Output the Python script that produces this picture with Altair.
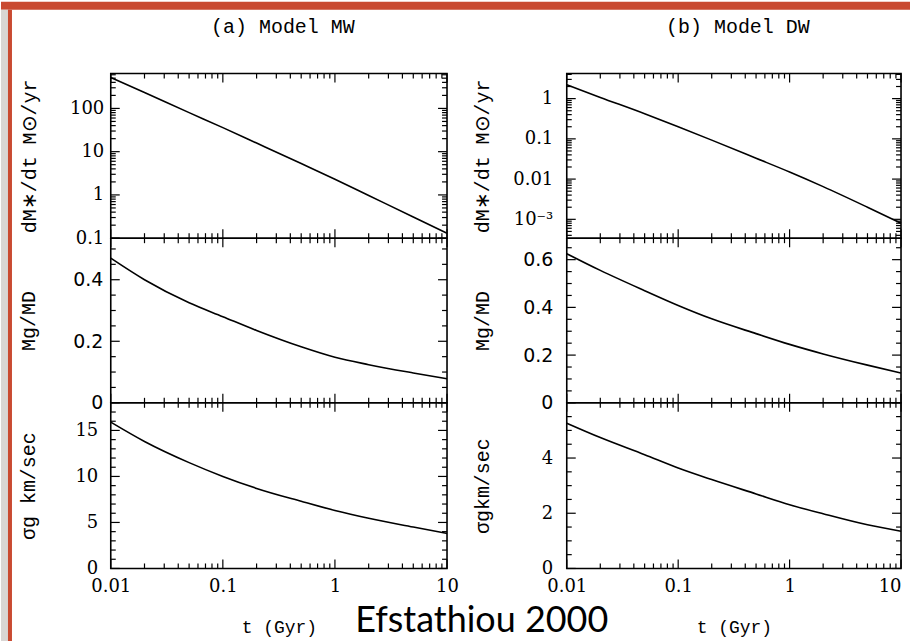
import altair as alt
import pandas as pd

# ---------------- data ----------------
t_vals = [0.01, 0.02, 0.05, 0.1, 0.2, 0.5, 1, 2, 5, 10]

sfr_mw = [520, 233, 80, 36, 15.8, 5.3, 2.3, 0.97, 0.31, 0.13]
sfr_dw = [2.2, 1.07, 0.42, 0.2, 0.093, 0.033, 0.015, 0.0065, 0.002, 0.0008]
gas_mw = [0.47, 0.40, 0.325, 0.28, 0.235, 0.182, 0.148, 0.124, 0.097, 0.078]
gas_dw = [0.625, 0.555, 0.47, 0.408, 0.352, 0.29, 0.245, 0.205, 0.158, 0.125]
sig_mw = [15.9, 13.8, 11.5, 10.0, 8.7, 7.3, 6.3, 5.45, 4.5, 3.8]
sig_dw = [5.26, 4.74, 4.12, 3.64, 3.22, 2.70, 2.31, 1.98, 1.58, 1.35]

x_major = [0.01, 0.1, 1, 10]
x_minor = [k * d for d in (0.01, 0.1, 1) for k in range(2, 10)]

yA1_major = [0.1, 1, 10, 100]
yA1_minor = [k * d for d in (0.1, 1, 10, 100) for k in range(2, 10) if k * d <= 640]
yB1_major = [0.001, 0.01, 0.1, 1]
yB1_minor = [k * d for d in (0.0001, 0.001, 0.01, 0.1, 1) for k in range(2, 10)
             if 0.00034 <= k * d <= 4.2]
yA2_major = [0, 0.2, 0.4]
yA2_minor = [0.05, 0.1, 0.15, 0.25, 0.3, 0.35, 0.45, 0.5]
yB2_major = [0, 0.2, 0.4, 0.6]
yB2_minor = [0.05, 0.1, 0.15, 0.25, 0.3, 0.35, 0.45, 0.5, 0.55, 0.65]
yA3_major = [0, 5, 10, 15]
yA3_minor = [1, 2, 3, 4, 6, 7, 8, 9, 11, 12, 13, 14, 16, 17]
yB3_major = [0, 2, 4]
yB3_minor = [0.5, 1, 1.5, 2.5, 3, 3.5, 4.5, 5, 5.5]

col_titles = ["(a) Model MW", "(b) Model DW"]
y_titles_A = ["dM∗/dt M⊙/yr", "Mg/MD", "σg km/sec"]
y_titles_B = ["dM∗/dt M⊙/yr", "Mg/MD", "σgkm/sec"]
x_title = "t (Gyr)"
credit = "Efstathiou 2000"

# ---------------- style ----------------
SERIF = "DejaVu Serif"
SANS = "DejaVu Sans"
MONO = "Liberation Mono"
RED = "#c94a31"
GREY = "#d9d6d4"
W = {"A": 337, "B": 335}
H = [165, 165, 166]
MAJ, MIN = 9, 5
one = pd.DataFrame({"k": [0]})


def tick_layers(w, h, ymaj, ymin, xaxis, yaxis):
    layers = []
    for vals, L in ((x_major, MAJ), (x_minor, MIN)):
        base = alt.Chart(pd.DataFrame({"t": vals})).mark_rule(color="black", strokeWidth=1.2)
        layers.append(base.encode(x=alt.X("t:Q", axis=xaxis), y=alt.value(0), y2=alt.value(L)))
        layers.append(base.encode(x=alt.X("t:Q", axis=xaxis), y=alt.value(h - L), y2=alt.value(h)))
    for vals, L in ((ymaj, MAJ), (ymin, MIN)):
        base = alt.Chart(pd.DataFrame({"v": vals})).mark_rule(color="black", strokeWidth=1.2)
        layers.append(base.encode(y=alt.Y("v:Q", axis=yaxis), x=alt.value(0), x2=alt.value(L)))
        layers.append(base.encode(y=alt.Y("v:Q", axis=yaxis), x=alt.value(w - L), x2=alt.value(w)))
    return layers


def panel(col, row, yvals, ydomain, ylog, ymaj, ymin, ytitle, lfont, lsize, lpad,
          title_x, lexpr, pre=None, post=None, top_title=None):
    w, h = W[col], H[row]
    if ylog:
        yscale = alt.Scale(type="log", domain=ydomain, nice=False)
    else:
        yscale = alt.Scale(type="linear", domain=ydomain, nice=False)
    yaxis = alt.Axis(values=ymaj, labelExpr=lexpr, ticks=False, domain=False,
                     grid=False, labelFont=lfont, labelFontSize=lsize, labelColor="black",
                     labelPadding=lpad, labelOverlap=False, title=ytitle, titleFont=MONO,
                     titleFontSize=20, titleFontWeight="normal", titleColor="black",
                     titleX=title_x, titleY=h / 2, titleBaseline="middle", titleAngle=270)
    if row == 2:
        xkw = dict(values=x_major, labelExpr="format(datum.value, '~g')", ticks=False,
                   domain=False, grid=False, labelFont=SERIF, labelFontSize=18,
                   labelColor="black", labelPadding=9, labelFlush=False, labelOverlap=False,
                   title=x_title, titleFont=MONO, titleFontSize=18, titleFontWeight="normal",
                   titleColor="black", titleX=w / 2, titleY=64, titleBaseline="alphabetic")
        if col == "B":
            xkw["labelAlign"] = {"condition": {"test": "datum.value >= 10", "value": "right"},
                                 "value": "center"}
        xaxis = alt.Axis(**xkw)
    else:
        xaxis = None
    df = pd.DataFrame({"t": t_vals, "v": yvals})
    line = alt.Chart(df).mark_line(color="black", strokeWidth=1.6, interpolate="monotone").encode(
        x=alt.X("t:Q", scale=alt.Scale(type="log", domain=[0.01, 10], nice=False), axis=xaxis),
        y=alt.Y("v:Q", scale=yscale, axis=yaxis),
    )
    layers = (pre or []) + [line] + tick_layers(w, h, ymaj, ymin, xaxis, yaxis) + (post or [])
    ch = alt.layer(*layers).properties(width=w, height=h)
    if top_title:
        ch = ch.properties(title=alt.TitleParams(
            text=top_title, font=MONO, fontSize=20, fontWeight="normal", color="black",
            anchor="middle", frame="group", offset=20, baseline="alphabetic", dx=4))
    return ch


# decorations: red page border + credit (drawn relative to the bottom-left panel)
banner = alt.Chart(one).mark_rect(color=RED).encode(
    x=alt.value(-110), x2=alt.value(801), y=alt.value(-402), y2=alt.value(-394))
strip_grey = alt.Chart(one).mark_rect(color=GREY).encode(
    x=alt.value(-110), x2=alt.value(-103), y=alt.value(-394), y2=alt.value(239))
strip_red = alt.Chart(one).mark_rect(color=RED).encode(
    x=alt.value(-103), x2=alt.value(-99), y=alt.value(-394), y2=alt.value(239))
credit_text = alt.Chart(one).mark_text(
    text=credit, font="Lato", fontSize=36, align="left", baseline="alphabetic", color="black"
).encode(x=alt.value(245), y=alt.value(230))

LOGFMT_A = "format(datum.value, '~g')"
LOGFMT_B = "datum.value < 0.005 ? '10⁻³' : format(datum.value, '~g')"
LIN = "format(datum.value, '~g')"

pA1 = panel("A", 0, sfr_mw, [0.1, 640], True, yA1_major, yA1_minor, y_titles_A[0], SERIF, 18, 7,
            -81, LOGFMT_A, top_title=col_titles[0])
pB1 = panel("B", 0, sfr_dw, [0.00034, 4.2], True, yB1_major, yB1_minor, y_titles_B[0], SERIF, 18,
            14, -84, LOGFMT_B, top_title=col_titles[1])
pA2 = panel("A", 1, gas_mw, [0, 0.535], False, yA2_major, yA2_minor, y_titles_A[1], SANS, 19, 8,
            -82, LIN)
pB2 = panel("B", 1, gas_dw, [0, 0.69], False, yB2_major, yB2_minor, y_titles_B[1], SANS, 19, 14,
            -84, LIN)
pA3 = panel("A", 2, sig_mw, [0, 18], False, yA3_major, yA3_minor, y_titles_A[2], SERIF, 18, 13,
            -82, LIN, pre=[banner, strip_grey, strip_red], post=[credit_text])
pB3 = panel("B", 2, sig_dw, [0, 6], False, yB3_major, yB3_minor, y_titles_B[2], SERIF, 18, 14,
            -84, LIN)

chart = alt.concat(
    pA1, pB1, pA2, pB2, pA3, pB3,
    columns=2, spacing={"row": 0, "column": 120}, bounds="flush", align="each",
).properties(padding=0, background="white").configure_view(stroke="black", strokeWidth=1.6)

chart.save("out.html", embed_options={"renderer": "svg", "actions": False})
